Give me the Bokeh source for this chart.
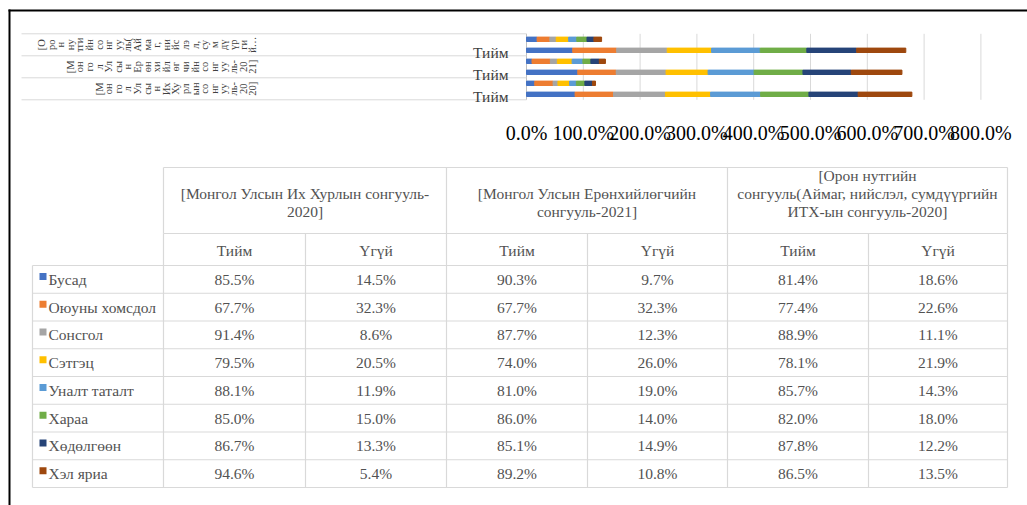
import numpy as np
from bokeh.plotting import figure
from bokeh.models import Range1d, ColumnDataSource
from bokeh.core.properties import value
from bokeh.embed import file_html
from bokeh.resources import INLINE

# ---------------- data ----------------
elections = [
    "[Монгол Улсын Их Хурлын сонгууль-2020]",
    "[Монгол Улсын Ерөнхийлөгчийн сонгууль-2021]",
    "[Орон нутгийн сонгууль(Аймаг, нийслэл, сумдүүргийн ИТХ-ын сонгууль-2020]",
]
# wrapped pieces of the election names as they appear rotated on the category axis
election_axis_pieces = [
    ["[М", "он", "го", "л", "Ул", "сы", "н", "Их", "Ху", "рл", "ын", "со", "нг", "уу", "ль-", "20", "20]"],
    ["[М", "он", "го", "л", "Ул", "сы", "н", "Ер", "өн", "хи", "йл", "өг", "чи", "йн", "со", "нг", "уу", "ль-", "20", "21]"],
    ["[О", "ро", "н", "ну", "тги", "йн", "со", "нг", "уу", "ль(", "Ай", "ма", "г,", "ни", "йс", "лэ", "л,", "су", "м", "дү", "үр", "ги", "й…"],
]
# election names as wrapped in the data-table header
election_table_lines = [
    ["[Монгол Улсын Их Хурлын сонгууль-", "2020]"],
    ["[Монгол Улсын Ерөнхийлөгчийн", "сонгууль-2021]"],
    ["[Орон нутгийн", "сонгууль(Аймаг, нийслэл, сумдүүргийн", "ИТХ-ын сонгууль-2020]"],
]
answers = ["Тийм", "Үгүй"]

series = ["Бусад", "Оюуны хомсдол", "Сонсгол", "Сэтгэц", "Уналт таталт", "Хараа", "Хөдөлгөөн", "Хэл яриа"]
colors = ["#4472C4", "#ED7D31", "#A5A5A5", "#FFC000", "#5B9BD5", "#70AD47", "#264478", "#9E480E"]

# order of values: МУИХ Тийм, МУИХ Үгүй, Ерөнхийлөгч Тийм, Ерөнхийлөгч Үгүй, Орон нутаг Тийм, Орон нутаг Үгүй
busad    = [85.5, 14.5, 90.3, 9.7, 81.4, 18.6]
oyuny    = [67.7, 32.3, 67.7, 32.3, 77.4, 22.6]
sonsgol  = [91.4, 8.6, 87.7, 12.3, 88.9, 11.1]
setgets  = [79.5, 20.5, 74.0, 26.0, 78.1, 21.9]
unalt    = [88.1, 11.9, 81.0, 19.0, 85.7, 14.3]
haraa    = [85.0, 15.0, 86.0, 14.0, 82.0, 18.0]
hudulgun = [86.7, 13.3, 85.1, 14.9, 87.8, 12.2]
hel      = [94.6, 5.4, 89.2, 10.8, 86.5, 13.5]
values = [busad, oyuny, sonsgol, setgets, unalt, haraa, hudulgun, hel]

x_ticks = [0, 100, 200, 300, 400, 500, 600, 700, 800]
x_tick_labels = ["0.0%", "100.0%", "200.0%", "300.0%", "400.0%", "500.0%", "600.0%", "700.0%", "800.0%"]

# ---------------- layout constants (canvas pixels) ----------------
W, H = 1027, 505
PLOT_LEFT = 21          # left end of category separators
ZERO_X = 526            # canvas x of 0 %
PPU = 0.568             # pixels per 1 %
BASE_Y = 99.3           # canvas y of the plot-area bottom
SLOT = 11.0             # pixels per bar slot

FONT = "Liberation Serif"
TXT = "#525252"

p = figure(width=W, height=H, output_backend="svg", toolbar_location=None,
           x_range=Range1d(0, W), y_range=Range1d(H, 0),
           x_axis_location=None, y_axis_location=None, min_border=0,
           min_border_left=0, min_border_right=0, min_border_top=0, min_border_bottom=0)
p.outline_line_color = None
p.grid.visible = False

# percent / slot scales for the bar chart
p.extra_x_ranges = {"pct": Range1d(-ZERO_X / PPU, (W - ZERO_X) / PPU)}
p.extra_y_ranges = {"slot": Range1d((BASE_Y - H) / SLOT, BASE_Y / SLOT)}
PR = dict(x_range_name="pct", y_range_name="slot")

n_groups = len(elections)
n_slots = n_groups * len(answers)

# chart-area border (left and top edges visible)
p.segment(x0=[9, 8], y0=[9, 10], x1=[9, W], y1=[H, 10], line_color="black", line_width=2)

# gridlines, axis line and category separators
p.segment(x0=x_ticks[1:], y0=0, x1=x_ticks[1:], y1=n_slots, line_color="#d9d9d9", line_width=1, **PR)
p.segment(x0=[0], y0=[0], x1=[0], y1=[n_slots], line_color="#bfbfbf", line_width=1, **PR)
sep_y = [2 * g for g in range(n_groups + 1)]
p.segment(x0=(PLOT_LEFT - ZERO_X) / PPU, y0=sep_y, x1=0, y1=sep_y, line_color="#d9d9d9", line_width=1, **PR)

# stacked bars
ys = [g * 2 + a + 0.5 for g in range(n_groups) for a in range(len(answers))]
keys = [f"s{i}" for i in range(len(series))]
data = {"y": ys}
for k, v in zip(keys, values):
    data[k] = v
src = ColumnDataSource(data)
p.hbar_stack(keys, y="y", height=0.4, color=colors, source=src, **PR)

# tick labels of the value axis
p.text(x=x_ticks, y=[(BASE_Y - 132) / SLOT] * len(x_ticks), text=x_tick_labels,
       text_align="center", text_baseline="middle",
       text_font=value(FONT), text_font_size="20px", text_color="black", **PR)

# rotated, wrapped election names on the category axis
ncol = max(len(c) for c in election_axis_pieces)
cx, cy, ct = [], [], []
for g, pieces in enumerate(election_axis_pieces):
    start = ncol - len(pieces)
    for j, piece in enumerate(pieces):
        cx.append((41 + 9.6 * (start + j) - ZERO_X) / PPU)
        cy.append(2 * g + 1)
        ct.append(piece)
p.text(x=cx, y=cy, text=ct, angle=np.pi / 2, text_align="center", text_baseline="middle",
       text_font=value(FONT), text_font_size="10.5px", text_color="#404040", **PR)

# inner category label (only "Тийм" fits)
p.text(x=[(508 - ZERO_X) / PPU] * n_groups, y=[2 * g + 0.3 for g in range(n_groups)],
       text=[answers[0]] * n_groups, text_align="right", text_baseline="middle",
       text_font=value(FONT), text_font_size="15.5px", text_color="#404040", **PR)

# ---------------- data table ----------------
LEG_L = 32
cols = [163, 305, 446, 587, 727, 868, 1007]
H_TOP, H_MID, H_BOT = 167, 233, 265
ROW_H = 27.75
n_rows = len(series)
rows = [H_BOT + ROW_H * i for i in range(n_rows + 1)]
GRID = "#d9d9d9"

x0, y0, x1, y1 = [], [], [], []
for yy in (H_TOP, H_MID):
    x0.append(cols[0]); x1.append(cols[-1]); y0.append(yy); y1.append(yy)
for yy in rows:
    x0.append(LEG_L); x1.append(cols[-1]); y0.append(yy); y1.append(yy)
for xx in cols[::2]:
    x0.append(xx); x1.append(xx); y0.append(H_TOP); y1.append(H_MID)
for xx in cols:
    x0.append(xx); x1.append(xx); y0.append(H_MID); y1.append(rows[-1])
x0.append(LEG_L); x1.append(LEG_L); y0.append(H_BOT); y1.append(rows[-1])
p.segment(x0=x0, y0=y0, x1=x1, y1=y1, line_color=GRID, line_width=1.2)

# election headers (bottom aligned)
hx, hy, ht = [], [], []
for g, lines in enumerate(election_table_lines):
    cxg = (cols[2 * g] + cols[2 * g + 2]) / 2
    for k, line in enumerate(lines):
        hx.append(cxg)
        hy.append(210.5 - 18 * (len(lines) - 1 - k))
        ht.append(line)
p.text(x=hx, y=hy, text=ht, text_align="center", text_baseline="middle",
       text_font=value(FONT), text_font_size="15.5px", text_color=TXT)

col_c = [(cols[i] + cols[i + 1]) / 2 for i in range(len(cols) - 1)]
p.text(x=col_c, y=[249.5] * len(col_c), text=[answers[i % 2] for i in range(len(col_c))],
       text_align="center", text_baseline="middle",
       text_font=value(FONT), text_font_size="15.5px", text_color=TXT)

row_c = [(rows[i] + rows[i + 1]) / 2 for i in range(n_rows)]
vx, vy, vt = [], [], []
for r, vals in enumerate(values):
    for c, v in enumerate(vals):
        vx.append(col_c[c]); vy.append(row_c[r]); vt.append(f"{v:.1f}%")
p.text(x=vx, y=vy, text=vt, text_align="center", text_baseline="middle",
       text_font=value(FONT), text_font_size="15.5px", text_color=TXT)

p.rect(x=[42.5] * n_rows, y=[rc - 3 for rc in row_c], width=7, height=7,
       fill_color=colors, line_color=None)
p.text(x=[48] * n_rows, y=row_c, text=series, text_align="left", text_baseline="middle",
       text_font=value(FONT), text_font_size="15.5px", text_color=TXT)

open("out.html", "w").write(file_html(p, INLINE))
